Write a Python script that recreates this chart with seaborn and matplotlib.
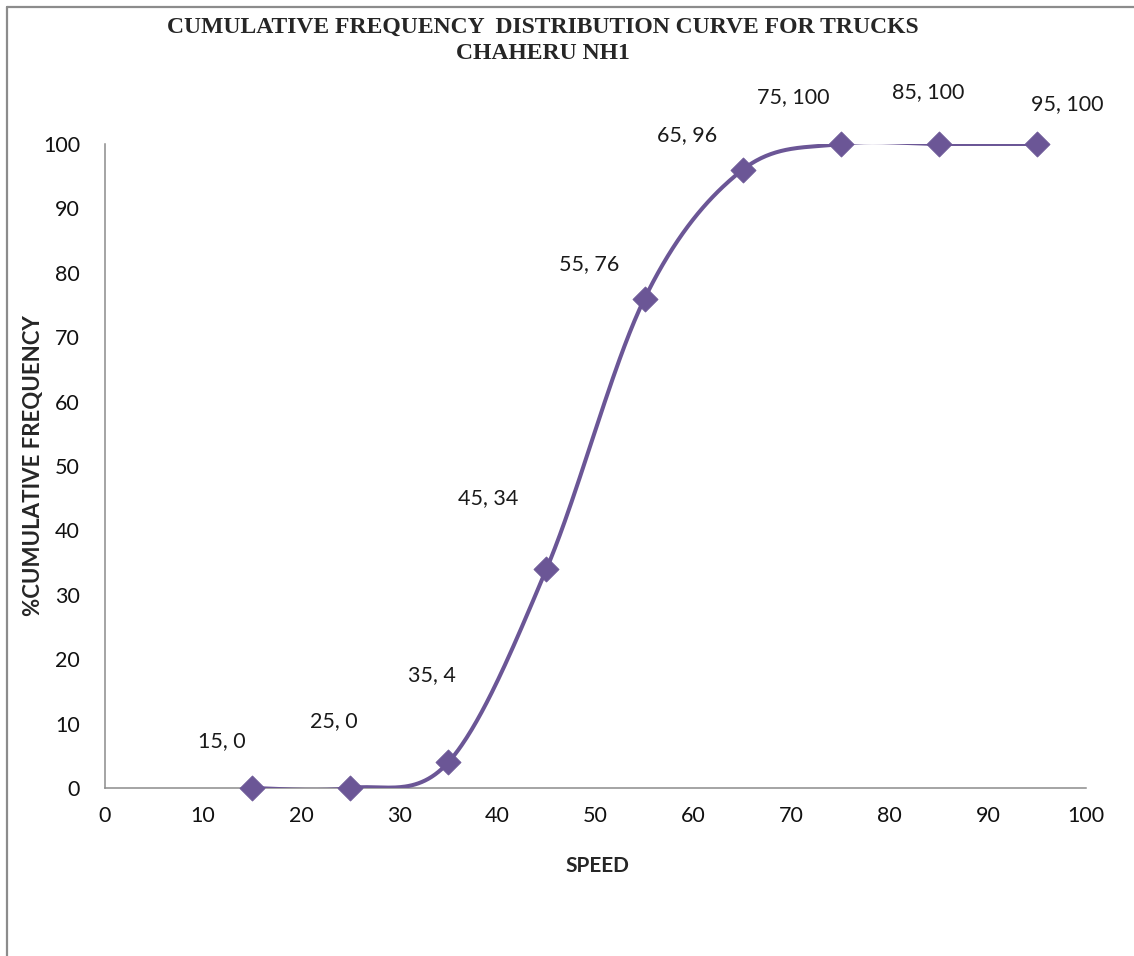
import numpy as np
import pandas as pd
import matplotlib
matplotlib.use("Agg")
import matplotlib.pyplot as plt
from matplotlib.lines import Line2D
import seaborn as sns

# Speed classes (km/h) and cumulative percentage of trucks
speed = [15, 25, 35, 45, 55, 65, 75, 85, 95]
cum_pct = [0, 0, 4, 34, 76, 96, 100, 100, 100]

x_ticks = list(range(0, 101, 10))
y_ticks = list(range(0, 101, 10))

title = "CUMULATIVE FREQUENCY  DISTRIBUTION CURVE FOR TRUCKS\nCHAHERU NH1"
x_label = "SPEED"
y_label = "%CUMULATIVE FREQUENCY"

# Offsets (points) of each data label from its marker
label_offsets = [(-22, 34), (-12, 48), (-12, 63), (-42, 51), (-40, 25),
                 (-40, 25), (-34, 34), (-8, 37), (22, 29)]

LINE = "#6B5696"
AXIS = "#8C8C8C"


def smooth_curve(xs, ys, n=60):
    """Bezier smoothing through every point (Catmull-Rom style tangents)."""
    p = np.column_stack([xs, ys]).astype(float)
    ext = np.vstack([p[0], p, p[-1]])
    out = []
    t = np.linspace(0, 1, n)[:, None]
    for i in range(len(p) - 1):
        p0, p1, p2, p3 = ext[i], ext[i + 1], ext[i + 2], ext[i + 3]
        c1 = p1 + (p2 - p0) / 6.0
        c2 = p2 - (p3 - p1) / 6.0
        seg = ((1 - t) ** 3) * p1 + 3 * ((1 - t) ** 2) * t * c1 \
            + 3 * (1 - t) * t ** 2 * c2 + t ** 3 * p2
        out.append(seg if i == 0 else seg[1:])
    return np.vstack(out)


sns.set_theme(style="white")
plt.rcParams["font.family"] = ["Lato", "DejaVu Sans"]

fig = plt.figure(figsize=(11.34, 9.56), dpi=100)
ax = fig.add_axes([0.0926, 0.1757, 0.8651, 0.6737])

curve = smooth_curve(speed, cum_pct)
curve_df = pd.DataFrame({"speed": curve[:, 0], "pct": curve[:, 1]})
sns.lineplot(data=curve_df, x="speed", y="pct", sort=False, ax=ax,
             color=LINE, linewidth=2.9, estimator=None, zorder=3)

pts = pd.DataFrame({"speed": speed, "pct": cum_pct})
sns.scatterplot(data=pts, x="speed", y="pct", ax=ax, marker="D", s=165,
                color=LINE, edgecolor=LINE, linewidth=0.5, zorder=4,
                clip_on=False)

for (xv, yv), (dx, dy) in zip(zip(speed, cum_pct), label_offsets):
    ax.annotate(f"{xv}, {yv}", (xv, yv), xytext=(dx, dy),
                textcoords="offset points", ha="center", va="center",
                fontsize=15.5, color="#1a1a1a")

ax.set_xlim(0, 100)
ax.set_ylim(0, 100)
ax.set_xticks(x_ticks)
ax.set_yticks(y_ticks)
ax.tick_params(axis="both", which="major", direction="out", length=6,
               width=1.1, color=AXIS, labelsize=15.5, labelcolor="#111111")
ax.tick_params(axis="y", pad=12)
ax.tick_params(axis="x", pad=7)
for side in ("top", "right"):
    ax.spines[side].set_visible(False)
for side in ("left", "bottom"):
    ax.spines[side].set_color(AXIS)
    ax.spines[side].set_linewidth(1.1)

ax.set_xlabel(x_label, fontsize=15, fontweight="bold")
ax.set_ylabel(y_label, fontsize=16, fontweight="bold")
ax.yaxis.set_label_coords(-0.062, 0.5)
ax.xaxis.set_label_coords(0.502, -0.105)

fig.text(0.479, 0.982, title, ha="center", va="top", fontsize=17,
         fontweight="bold", family=["Liberation Serif", "DejaVu Serif"],
         linespacing=1.32)

# Chart-area frame (left and top edges)
fig.add_artist(Line2D([7 / 1134, 7 / 1134], [0, 1 - 7 / 956],
                      transform=fig.transFigure, color=AXIS, linewidth=1.6))
fig.add_artist(Line2D([7 / 1134, 1], [1 - 7 / 956, 1 - 7 / 956],
                      transform=fig.transFigure, color=AXIS, linewidth=1.6))

fig.savefig("out.png", dpi=100, facecolor="white")
